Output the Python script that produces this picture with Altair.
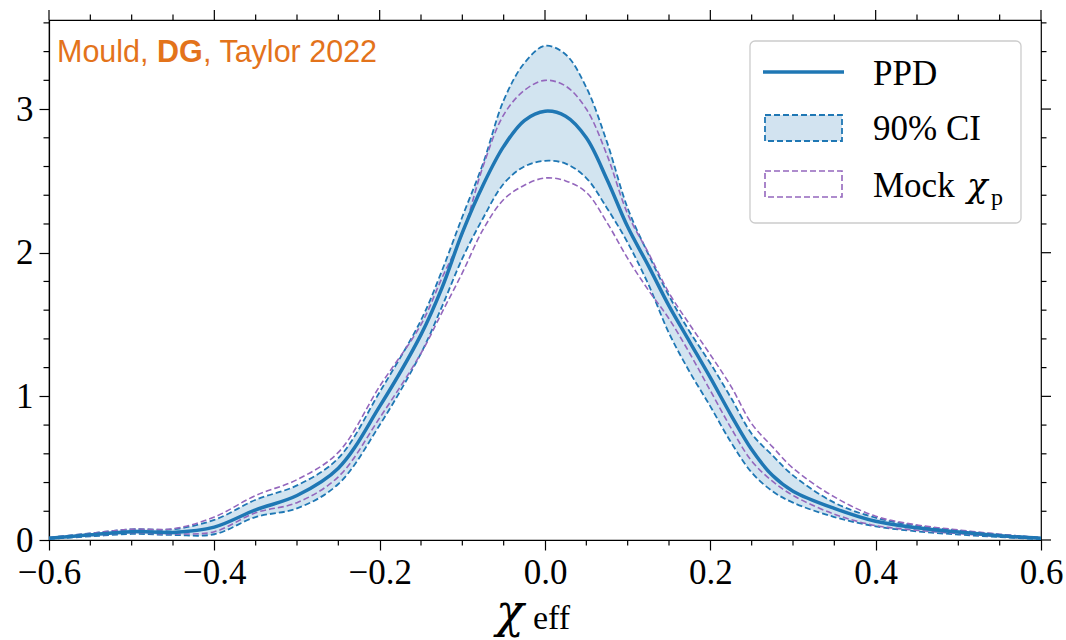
import altair as alt
import pandas as pd

# ---------------- data ----------------
x_vals = [-0.6, -0.55, -0.5, -0.45, -0.4, -0.35, -0.3, -0.25, -0.2, -0.15, -0.125, -0.1, -0.075,
          -0.05, -0.025, 0.0, 0.025, 0.05, 0.075, 0.1, 0.125, 0.15, 0.175, 0.2, 0.225, 0.25,
          0.275, 0.3, 0.35, 0.4, 0.45, 0.5, 0.55, 0.6]
ppd = [0.012, 0.036, 0.058, 0.053, 0.09, 0.21, 0.31, 0.50, 0.93, 1.43, 1.75, 2.14, 2.47,
       2.74, 2.92, 2.985, 2.95, 2.80, 2.51, 2.18, 1.91, 1.63, 1.38, 1.13, 0.87, 0.63,
       0.45, 0.34, 0.22, 0.13, 0.085, 0.055, 0.03, 0.012]
ci_hi = [0.016, 0.046, 0.074, 0.075, 0.14, 0.28, 0.38, 0.57, 1.03, 1.53, 1.87, 2.25, 2.62,
         3.06, 3.32, 3.44, 3.38, 3.15, 2.77, 2.31, 1.99, 1.70, 1.45, 1.23, 0.99, 0.74,
         0.59, 0.45, 0.26, 0.155, 0.10, 0.066, 0.038, 0.016]
ci_lo = [0.008, 0.025, 0.042, 0.035, 0.04, 0.16, 0.22, 0.39, 0.80, 1.30, 1.62, 1.96, 2.24,
         2.48, 2.60, 2.64, 2.62, 2.52, 2.31, 2.07, 1.78, 1.44, 1.17, 0.93, 0.68, 0.47,
         0.34, 0.26, 0.16, 0.095, 0.06, 0.038, 0.02, 0.006]
mock_hi = [0.016, 0.046, 0.075, 0.078, 0.16, 0.31, 0.42, 0.61, 1.07, 1.50, 1.82, 2.13, 2.60,
           2.96, 3.13, 3.20, 3.16, 3.00, 2.68, 2.27, 2.00, 1.72, 1.50, 1.29, 1.07, 0.81,
           0.65, 0.50, 0.30, 0.165, 0.105, 0.07, 0.04, 0.016]
mock_lo = [0.01, 0.03, 0.05, 0.042, 0.058, 0.19, 0.26, 0.44, 0.85, 1.30, 1.58, 1.86, 2.16,
           2.37, 2.47, 2.52, 2.50, 2.42, 2.21, 1.96, 1.74, 1.54, 1.30, 1.04, 0.78, 0.55,
           0.41, 0.31, 0.18, 0.10, 0.068, 0.045, 0.025, 0.01]

x_major = [-0.6, -0.4, -0.2, 0.0, 0.2, 0.4, 0.6]
x_minor = [-0.55, -0.5, -0.45, -0.35, -0.3, -0.25, -0.15, -0.1, -0.05,
           0.05, 0.1, 0.15, 0.25, 0.3, 0.35, 0.45, 0.5, 0.55]
y_major = [0, 1, 2, 3]
y_minor = [0.2, 0.4, 0.6, 0.8, 1.2, 1.4, 1.6, 1.8, 2.2, 2.4, 2.6, 2.8, 3.2, 3.4, 3.6]

legend_labels = ["PPD", "90% CI", "Mock"]
annot = ["Mould, ", "DG", ", Taylor 2022"]

# ---------------- style ----------------
W, H = 992, 520
BLUE = "#1f77b4"
PURPLE = "#9467bd"
ORANGE = "#e3731b"
SERIF = "Liberation Serif"
GREEK = "DejaVu Serif"
SANS = "Liberation Sans"
FS = 35
INTERP = "catmull-rom"

xscale = alt.Scale(domain=[-0.6, 0.6], nice=False, zero=False)
yscale = alt.Scale(domain=[0, 3.62], nice=False, zero=False)

df = pd.DataFrame({"x": x_vals, "ppd": ppd, "hi": ci_hi, "lo": ci_lo})
ci_long = pd.concat([
    pd.DataFrame({"x": x_vals, "y": ci_hi, "k": "hi"}),
    pd.DataFrame({"x": x_vals, "y": ci_lo, "k": "lo"}),
])
mock_long = pd.concat([
    pd.DataFrame({"x": x_vals, "y": mock_hi, "k": "hi"}),
    pd.DataFrame({"x": x_vals, "y": mock_lo, "k": "lo"}),
])

x_axis = alt.Axis(values=x_major, tickSize=10, tickWidth=1.2, tickColor="black",
                  domainColor="black", domainWidth=1.2, labelFont=SERIF, labelFontSize=FS,
                  labelColor="black", labelPadding=5, labelFlush=False, labelOverlap=False,
                  labelExpr="datum.value < 0 ? '\u2212' + format(-datum.value, '.1f') : format(datum.value, '.1f')",
                  grid=False, title=None)
y_axis = alt.Axis(values=y_major, tickSize=10, tickWidth=1.2, tickColor="black",
                  domainColor="black", domainWidth=1.2, labelFont=SERIF, labelFontSize=FS,
                  labelColor="black", labelPadding=6, labelFlush=False, labelOverlap=False,
                  format="d", grid=False, title=None)


def X(field):
    return alt.X(field, scale=xscale, axis=x_axis)


def Y(field):
    return alt.Y(field, scale=yscale, axis=y_axis)


area = alt.Chart(df).mark_area(color=BLUE, opacity=0.2, interpolate=INTERP).encode(
    x=X("x:Q"), y=Y("hi:Q"), y2="lo:Q",
)
ci_lines = alt.Chart(ci_long).mark_line(color=BLUE, strokeWidth=1.8, strokeDash=[6, 3],
                                        interpolate=INTERP).encode(
    x=X("x:Q"), y=Y("y:Q"), detail="k:N",
)
mock_lines = alt.Chart(mock_long).mark_line(color=PURPLE, strokeWidth=1.6, strokeDash=[6, 3],
                                            interpolate=INTERP).encode(
    x=X("x:Q"), y=Y("y:Q"), detail="k:N",
)
ppd_line = alt.Chart(df).mark_line(color=BLUE, strokeWidth=3.5, interpolate=INTERP).encode(
    x=X("x:Q"), y=Y("ppd:Q"),
)


# ---------------- ticks (minor + mirrored) ----------------
def xticks(vals, y0, y1):
    return alt.Chart(pd.DataFrame({"v": vals})).mark_rule(color="black", strokeWidth=1.2).encode(
        x=X("v:Q"), y=alt.value(y0), y2=alt.value(y1))


def yticks(vals, x0, x1):
    return alt.Chart(pd.DataFrame({"v": vals})).mark_rule(color="black", strokeWidth=1.2).encode(
        y=Y("v:Q"), x=alt.value(x0), x2=alt.value(x1))


ticks = [
    xticks(x_minor, H, H + 5.5),
    xticks(x_minor, 0, -5.5),
    xticks(x_major, 0, -10),
    yticks(y_minor, 0, -5.5),
    yticks(y_minor, W, W + 5.5),
    yticks(y_major, W, W + 10),
]


# ---------------- text helpers ----------------
one = pd.DataFrame({"d": [0]})


def text(t, x, y, size, font=SERIF, color="black", weight="normal", style="normal", align="left"):
    return alt.Chart(one).mark_text(text=t, font=font, fontSize=size, color=color,
                                    fontWeight=weight, fontStyle=style, align=align,
                                    baseline="alphabetic").encode(
        x=alt.value(x), y=alt.value(y))


# x-axis title chi_eff
xtitle = [
    text("χ", 447, 607, 46, font=GREEK, style="italic"),
    text("eff", 484, 609, 34),
]

# orange annotation
note = [
    text(annot[0], 8, 42, 30.5, font=SANS, color=ORANGE),
    text(annot[1], 108, 42, 30.5, font=SANS, color=ORANGE, weight="bold"),
    text(annot[2], 154, 42, 30.5, font=SANS, color=ORANGE),
]

# legend
leg_box = alt.Chart(one).mark_rect(fill="white", fillOpacity=0.85, stroke="#cccccc",
                                   strokeWidth=1.3, cornerRadius=5).encode(
    x=alt.value(701), x2=alt.value(972), y=alt.value(21), y2=alt.value(203))
leg_line = alt.Chart(one).mark_rule(color=BLUE, strokeWidth=3.5).encode(
    x=alt.value(714), x2=alt.value(795), y=alt.value(52))
leg_ci = alt.Chart(one).mark_rect(fill="#d2e3f0", stroke=BLUE, strokeWidth=1.8,
                                  strokeDash=[6, 3]).encode(
    x=alt.value(716), x2=alt.value(793), y=alt.value(95), y2=alt.value(121))
leg_mock = alt.Chart(one).mark_rect(fill="white", stroke=PURPLE, strokeWidth=1.6,
                                    strokeDash=[6, 3]).encode(
    x=alt.value(716), x2=alt.value(793), y=alt.value(151), y2=alt.value(177))
leg_text = [
    text(legend_labels[0], 824, 65, FS),
    text(legend_labels[1], 824, 120, FS),
    text(legend_labels[2], 824, 177, FS),
    text("χ", 918, 177, 34, font=GREEK, style="italic"),
    text("p", 942, 185, 24),
]

chart = alt.layer(
    area, ci_lines, mock_lines, ppd_line, *ticks, *xtitle, *note,
    leg_box, leg_line, leg_ci, leg_mock, *leg_text,
).properties(
    width=W, height=H,
    padding={"left": 49, "top": 20, "right": 25, "bottom": 100},
    autosize="none",
).configure_view(stroke="black", strokeWidth=1.2)

chart.save("out.html", embed_options={"renderer": "svg", "actions": False})
